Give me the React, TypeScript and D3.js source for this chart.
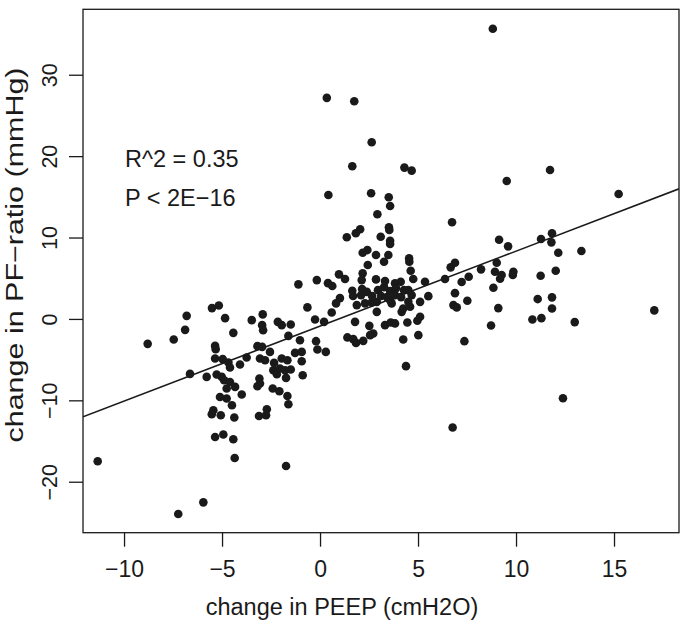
import React from "react";
import * as d3 from "d3";

// change in PEEP (cmH2O)
const peep: number[] = [
  -6.83,-6.91,-8.82,-7.49,-6.66,-5.81,-11.37,-5.98,-7.26,
  -1.13,-0.19,-5.19,-5.54,-4.87,-0.67,-3.51,-2.95,-2.98,-2.93,-2.18,-1.98,-1.52,-0.28,0.18,
  -4.45,-1.64,-1.05,-0.23,-5.38,-5.35,-5.38,-4.99,-3.22,-2.98,-2.58,-1.30,-0.96,-0.16,0.27,
  -3.77,-3.09,-2.83,-1.98,-1.69,-0.96,-4.70,-4.62,-4.11,-2.37,-5.30,-5.04,-2.41,-2.07,-1.81,-1.52,
  -2.23,-0.91,-1.76,-4.92,-3.12,-3.09,-3.22,-4.62,-4.36,-4.79,-2.44,-2.10,-4.02,-1.69,-5.13,-4.79,
  -1.64,-4.52,-5.47,-5.55,-5.09,-4.40,-3.14,-2.78,-2.74,-5.38,-4.96,-4.45,-4.38,-1.76,
  0.38,0.40,2.58,3.48,3.55,2.90,6.71,2.02,1.80,1.34,3.49,3.51,3.07,3.55,3.55,2.39,2.15,2.83,3.46,3.24,2.41,
  4.52,4.53,4.60,4.73,0.94,1.25,2.15,2.10,2.83,0.60,1.62,2.07,2.36,4.09,3.80,5.33,4.48,4.65,5.50,6.35,6.64,6.86,6.86,
  0.79,0.57,1.85,2.27,2.61,2.87,3.55,3.63,4.48,4.57,5.08,2.87,4.14,4.22,1.76,2.49,2.69,2.53,3.29,3.58,3.80,4.43,5.08,4.94,
  1.37,1.67,1.81,2.18,4.22,4.99,4.36,6.78,
  2.93,3.24,3.55,3.85,3.09,3.39,3.80,4.11,2.63,1.66,2.12,4.26,0.99,3.29,
  0.32,1.72,2.61,1.62,4.28,4.65,
  8.79,11.71,9.50,15.21,
  9.11,9.57,11.25,11.81,11.78,12.13,13.31,8.99,8.90,8.19,7.56,7.20,9.24,9.16,9.84,9.81,11.23,12.00,
  8.82,7.49,6.95,9.07,11.08,11.81,11.81,10.81,11.27,8.70,12.97,17.03,7.34,12.37,6.74
];

// change in PF-ratio (mmHg)
const pf: number[] = [
  0.44,-1.28,-3.00,-2.46,-6.69,-7.06,-17.43,-22.47,-23.91,
  4.31,4.83,1.72,1.39,0.16,1.48,-0.09,0.62,-0.70,-1.32,-0.30,-0.70,-0.62,0.00,-0.30,
  -1.65,-2.02,-2.55,-2.67,-3.25,-3.65,-4.80,-4.88,-3.28,-3.37,-3.99,-4.11,-3.99,-3.69,-3.99,
  -4.67,-4.80,-5.01,-4.80,-5.01,-5.13,-5.29,-5.90,-5.54,-5.34,-6.77,-7.06,-6.24,-6.03,-6.24,-6.15,
  -6.73,-6.85,-7.18,-7.47,-7.26,-7.87,-8.20,-7.68,-8.29,-8.49,-8.49,-8.82,-9.23,-9.40,-9.52,-9.72,
  -10.42,-10.54,-11.16,-11.65,-11.77,-12.05,-11.86,-11.77,-11.03,-14.44,-14.14,-14.72,-17.02,-18.01,
  4.46,15.29,15.50,15.01,13.94,12.92,11.93,11.07,10.58,10.09,11.32,10.98,10.16,9.67,9.26,8.52,8.19,7.91,7.91,7.08,6.68,
  7.50,7.08,5.98,4.96,5.54,4.96,5.66,4.83,4.92,4.10,3.52,2.99,3.39,4.62,4.43,4.62,3.60,2.99,2.86,4.96,6.40,6.96,3.23,
  1.97,0.86,1.76,1.97,2.09,2.16,2.37,1.97,2.16,1.55,2.16,0.93,0.93,1.35,-0.30,-0.79,-1.72,-1.93,-0.70,-0.37,-0.49,-0.37,0.32,-0.17,
  -2.21,-2.42,-2.88,-2.63,-2.46,-1.93,-5.74,1.76,
  3.60,3.97,3.48,3.85,2.87,2.74,2.99,2.74,2.87,2.87,3.73,3.60,2.62,4.71,
  27.22,26.81,21.77,18.82,18.65,18.28,
  35.71,18.36,17.01,15.41,
  9.79,8.98,9.88,10.58,9.47,8.19,8.40,6.96,5.85,6.15,5.24,4.59,5.45,4.99,5.85,5.45,5.36,5.98,
  3.89,2.29,1.48,1.39,2.50,2.71,1.35,0.00,0.16,-0.74,-0.33,1.11,-2.67,-9.68,-13.28
];

const xTicks: number[] = [-10, -5, 0, 5, 10, 15];
const yTicks: number[] = [-20, -10, 0, 10, 20, 30];
const xDomain: [number, number] = [-12.12, 18.29];
const yDomain: [number, number] = [-26.2, 38.1];
const fitIntercept = -0.8;
const fitSlope = 0.921;
const statLines: string[] = ["R^2 = 0.35", "P < 2E\u221216"];
const xTitle = "change in PEEP (cmH2O)";
const yTitle = "change in PF\u2212ratio (mmHg)";

export default function App() {
  const W = 685, H = 621;
  const left = 83, right = 679, top = 9.3, bottom = 532.7;
  const x = d3.scaleLinear().domain(xDomain).range([left, right]);
  const y = d3.scaleLinear().domain(yDomain).range([bottom, top]);
  const font = "'Liberation Sans', Arial, Helvetica, sans-serif";
  const ink = "#1a1a1a";
  const tick = 14;
  const line = d3.line<number>().x((v) => x(v)).y((v) => y(fitIntercept + fitSlope * v));
  const pts = peep.map((v, i) => [v, pf[i]] as [number, number]);
  const lab = (t: number) => (t < 0 ? "\u2212" + Math.abs(t) : String(t));
  return (
    <svg width={W} height={H} style={{ position: "absolute", left: 0, top: 0, background: "#fff" }} fontFamily={font}>
      <rect x={0} y={0} width={W} height={H} fill="#fff" />
      <defs>
        <clipPath id="plotclip">
          <rect x={left} y={top} width={right - left} height={bottom - top} />
        </clipPath>
      </defs>
      <g clipPath="url(#plotclip)">
        <path d={line(xDomain) || ""} stroke={ink} strokeWidth={1.6} fill="none" />
      </g>
      {pts.map((p, i) => (
        <circle key={i} cx={x(p[0])} cy={y(p[1])} r={4.3} fill={ink} />
      ))}
      <rect x={left} y={top} width={right - left} height={bottom - top} fill="none" stroke={ink} strokeWidth={1.3} />
      {xTicks.map((t) => (
        <g key={t}>
          <line x1={x(t)} x2={x(t)} y1={bottom} y2={bottom + tick} stroke={ink} strokeWidth={1.3} />
          <text x={x(t)} y={577} textAnchor="middle" fontSize={23} fill={ink}>{lab(t)}</text>
        </g>
      ))}
      {yTicks.map((t) => (
        <g key={t}>
          <line x1={left - tick} x2={left} y1={y(t)} y2={y(t)} stroke={ink} strokeWidth={1.3} />
          <text transform={`translate(57,${y(t)}) rotate(-90)`} textAnchor="middle" fontSize={21.5} fill={ink}>{lab(t)}</text>
        </g>
      ))}
      <text x={342} y={615} textAnchor="middle" fontSize={23.5} fill={ink}>{xTitle}</text>
      <text transform={`translate(23,255) rotate(-90)`} textAnchor="middle" fontSize={23} textLength={375} lengthAdjust="spacingAndGlyphs" fill={ink}>{yTitle}</text>
      {statLines.map((s, i) => (
        <text key={i} x={125} y={167 + i * 39} fontSize={23.5} fill={ink}>{s}</text>
      ))}
    </svg>
  );
}
